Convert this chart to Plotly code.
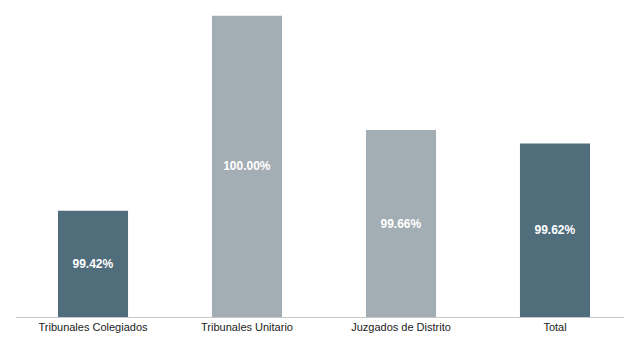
import plotly.graph_objects as go

categorias = ["Tribunales Colegiados", "Tribunales Unitario", "Juzgados de Distrito", "Total"]
valores = [99.42, 100.00, 99.66, 99.62]
etiquetas = ["99.42%", "100.00%", "99.66%", "99.62%"]
colores = ["#4f6d7b", "#a3adb4", "#a3adb4", "#4f6d7b"]

y_min, y_max = 99.104, 100.047

fig = go.Figure()
fig.add_trace(go.Bar(
    x=categorias,
    y=[v - y_min for v in valores],
    base=y_min,
    text=["<b>%s</b>" % t for t in etiquetas],
    marker=dict(color=colores, line=dict(width=0)),
    width=0.455,
    textposition="inside", insidetextanchor="middle",
    textfont=dict(family="Liberation Sans, Arial", size=12, color="white"),
    textangle=0,
))

fig.update_layout(
    width=624, height=341,
    margin=dict(l=16, r=0, t=0, b=24),
    paper_bgcolor="white", plot_bgcolor="white",
    showlegend=False,
    font=dict(family="Liberation Sans, Arial", size=11, color="#222222"),
)
fig.update_xaxes(
    type="category", range=[-0.5, 3.448],
    showline=True, linecolor="#c8c8c8", linewidth=1,
    ticks="", showgrid=False, tickfont=dict(size=11, color="#222222"),
)
fig.update_yaxes(range=[y_min, y_max], visible=False, showgrid=False)

fig.write_html("out.html", config={"displayModeBar": False},
               post_script="document.body.style.margin='0';")
